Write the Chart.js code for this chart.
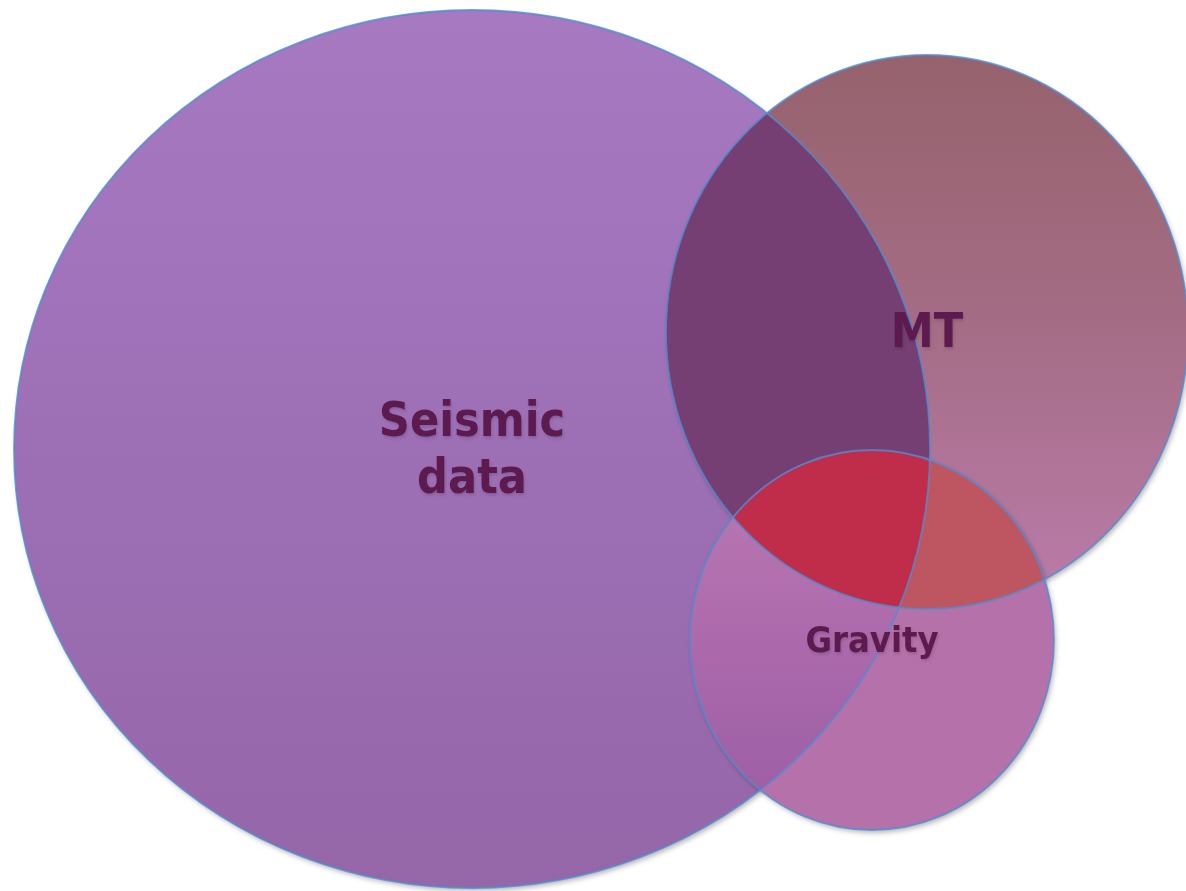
<!DOCTYPE html>
<html>
<head>
<meta charset="utf-8">
<script src="https://cdn.jsdelivr.net/npm/chart.js@4/dist/chart.umd.min.js"></script>
<style>
  html, body { margin: 0; padding: 0; background: #fff; }
  #venn { display: block; }
</style>
</head>
<body>
<canvas id="venn" width="1186" height="891"></canvas>
<script>
// three overlapping data sets, each an ellipse in plot units
const setLabels = [["Seismic", "data"], ["MT"], ["Gravity"]];
const centerX = [472, 927, 872];
const centerY = [449, 332, 640];
const radiusX = [458, 261, 182];
const radiusY = [439, 277, 190];
const labelSize = [48, 48, 36];

const SEIS = 0, MT = 1, GRAV = 2;

function ellipsePath(ctx, chart, i) {
    const xs = chart.scales.x, ys = chart.scales.y;
    const px = xs.getPixelForValue(centerX[i]);
    const py = ys.getPixelForValue(centerY[i]);
    const rx = Math.abs(xs.getPixelForValue(centerX[i] + radiusX[i]) - px);
    const ry = Math.abs(ys.getPixelForValue(centerY[i] + radiusY[i]) - py);
    ctx.beginPath();
    ctx.ellipse(px, py, rx, ry, 0, 0, Math.PI * 2);
    return { px, py, rx, ry };
}

function vGradient(ctx, e, stops) {
    const g = ctx.createLinearGradient(0, e.py - e.ry, 0, e.py + e.ry);
    stops.forEach((c, k) => g.addColorStop(k / (stops.length - 1), c));
    return g;
}

const vennPlugin = {
    id: "venn",
    afterDatasetsDraw(chart) {
        const ctx = chart.ctx;
        ctx.save();

        // base shapes with a soft drop shadow
        ctx.shadowColor = "rgba(0,0,0,0.28)";
        ctx.shadowBlur = 5;
        ctx.shadowOffsetX = 2;
        ctx.shadowOffsetY = 3;
        let e = ellipsePath(ctx, chart, SEIS);
        ctx.fillStyle = vGradient(ctx, e, ["#a779c1", "#9d6fb5", "#9566a8"]);
        ctx.fill();
        e = ellipsePath(ctx, chart, MT);
        ctx.fillStyle = vGradient(ctx, e, ["#96626c", "#a56d86", "#bb7cab"]);
        ctx.fill();
        e = ellipsePath(ctx, chart, GRAV);
        ctx.fillStyle = "#b571a9";
        ctx.fill();
        ctx.shadowColor = "transparent";

        // seismic overlaps
        ctx.save();
        ellipsePath(ctx, chart, SEIS);
        ctx.clip();
        ellipsePath(ctx, chart, MT);
        ctx.fillStyle = "#753f74";
        ctx.fill();
        e = ellipsePath(ctx, chart, GRAV);
        ctx.fillStyle = vGradient(ctx, e, ["#bb7ab3", "#ac6aac", "#9a5ca3"]);
        ctx.fill();
        ctx.restore();

        // MT and gravity
        ctx.save();
        ellipsePath(ctx, chart, MT);
        ctx.clip();
        ellipsePath(ctx, chart, GRAV);
        ctx.fillStyle = "#bd5660";
        ctx.fill();
        // all three
        ellipsePath(ctx, chart, SEIS);
        ctx.clip();
        ellipsePath(ctx, chart, GRAV);
        ctx.fillStyle = "#c02d4b";
        ctx.fill();
        ctx.restore();

        // outlines
        ctx.lineWidth = 1.8;
        ctx.strokeStyle = "rgba(80,140,208,0.8)";
        [SEIS, MT, GRAV].forEach(i => {
            ellipsePath(ctx, chart, i);
            ctx.stroke();
        });

        // set names
        ctx.textAlign = "center";
        ctx.textBaseline = "middle";
        ctx.fillStyle = "#5c1a4f";
        ctx.shadowColor = "rgba(0,0,0,0.15)";
        ctx.shadowBlur = 3;
        ctx.shadowOffsetX = 1;
        ctx.shadowOffsetY = 2;
        setLabels.forEach((lines, i) => {
            const xs = chart.scales.x, ys = chart.scales.y;
            const px = xs.getPixelForValue(centerX[i]);
            const py = ys.getPixelForValue(centerY[i]);
            const size = labelSize[i];
            const lh = size * 1.17;
            ctx.font = "bold " + size + "px 'DejaVu Sans Condensed', 'DejaVu Sans', sans-serif";
            lines.forEach((t, k) => {
                ctx.fillText(t, px, py + (k - (lines.length - 1) / 2) * lh + 3);
            });
        });
        ctx.restore();
    }
};

const chart = new Chart(document.getElementById("venn").getContext("2d"), {
    type: "scatter",
    data: {
        datasets: setLabels.map((l, i) => ({
            label: l.join(" "),
            data: [{ x: centerX[i], y: centerY[i] }],
            pointRadius: 0
        }))
    },
    options: {
        responsive: false,
        animation: false,
        layout: { padding: 0 },
        plugins: {
            legend: { display: false },
            tooltip: { enabled: false }
        },
        scales: {
            x: { type: "linear", min: 0, max: 1186, display: false },
            y: { type: "linear", min: 0, max: 891, reverse: true, display: false }
        }
    },
    plugins: [vennPlugin]
});
</script>
</body>
</html>
